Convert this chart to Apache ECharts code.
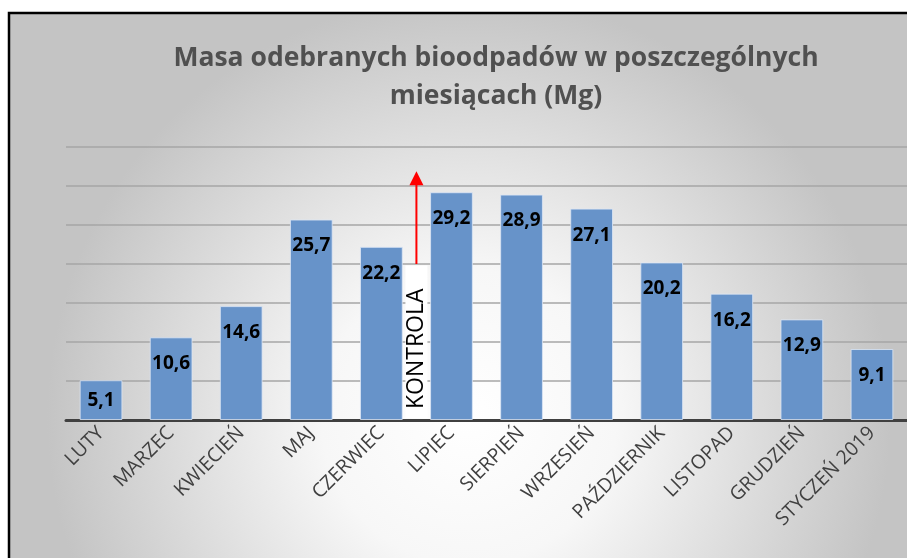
<!DOCTYPE html>
<html>
<head>
<meta charset="utf-8">
<script src="https://cdn.jsdelivr.net/npm/echarts@6/dist/echarts.min.js"></script>
<style>
    html, body { margin: 0; padding: 0; background: #fff; }
    #chart { width: 907px; height: 558px; }
</style>
</head>
<body>
<div id="chart"></div>
<script>
    const months = ['LUTY', 'MARZEC', 'KWIECIEŃ', 'MAJ', 'CZERWIEC', 'LIPIEC', 'SIERPIEŃ',
        'WRZESIEŃ', 'PAŹDZIERNIK', 'LISTOPAD', 'GRUDZIEŃ', 'STYCZEŃ 2019'];
    const massMg = [5.1, 10.6, 14.6, 25.7, 22.2, 29.2, 28.9, 27.1, 20.2, 16.2, 12.9, 9.1];
    const yTicks = [0, 5, 10, 15, 20, 25, 30, 35];

    const titleText = 'Masa odebranych bioodpadów w poszczególnych\nmiesiącach (Mg)';
    const noteText = 'KONTROLA';
    // adnotacja: strzałka między czerwcem a lipcem
    const noteArrow = { from: 20, to: 31.9 };
    const noteBox = { from: 0, to: 19.8 };

    const fontFamily = '"Open Sans", Lato, sans-serif';

    const chart = echarts.init(document.getElementById('chart'));

    function fmt(v) {
        return v.toFixed(1).replace('.', ',');
    }

    const barData = massMg.map((v, i) => {
        // najniższy słupek ma etykietę na środku
        if (i === 0) return { value: v, label: { position: 'inside', distance: 0 } };
        return v;
    });

    chart.setOption({
        animation: false,
        title: {
            text: titleText,
            left: 491,
            top: 34,
            textAlign: 'center',
            textStyle: {
                color: '#505050',
                fontSize: 26.5,
                fontWeight: 'bold',
                fontFamily,
                lineHeight: 38
            }
        },
        grid: { left: 66, right: -14, top: 147, bottom: 138 },
        xAxis: {
            type: 'category',
            data: months,
            axisTick: { show: false },
            axisLine: { lineStyle: { color: '#404040', width: 3 } },
            axisLabel: {
                rotate: 45,
                interval: 0,
                color: '#404040',
                fontSize: 19.5,
                fontFamily,
                margin: 10
            }
        },
        yAxis: {
            type: 'value',
            min: yTicks[0],
            max: yTicks[yTicks.length - 1],
            interval: 5,
            axisLabel: { show: false },
            axisLine: { show: false },
            axisTick: { show: false },
            splitLine: { lineStyle: { color: '#a6a6a6', width: 1.5 } }
        },
        series: [{
            type: 'bar',
            data: barData,
            barCategoryGap: '39%',
            itemStyle: {
                color: '#6793c9',
                borderColor: 'rgba(220,230,245,0.8)',
                borderWidth: 1
            },
            label: {
                show: true,
                position: 'insideTop',
                distance: 17,
                color: '#000',
                fontSize: 19,
                fontWeight: 'bold',
                fontFamily,
                formatter: p => fmt(p.value)
            }
        }]
    });

    function drawNote() {
        const x = (chart.convertToPixel({ xAxisIndex: 0 }, 4) + chart.convertToPixel({ xAxisIndex: 0 }, 5)) / 2;
        const yPx = v => chart.convertToPixel({ yAxisIndex: 0 }, v);
        const boxTop = yPx(noteBox.to);
        const boxBottom = yPx(noteBox.from);
        const arrowTop = yPx(noteArrow.to);
        const arrowBottom = yPx(noteArrow.from);

        chart.setOption({
            graphic: [
                {
                    // tło ramki z promienistym gradientem
                    type: 'rect',
                    z: -10,
                    silent: true,
                    shape: { x: 9, y: 13, width: 920, height: 560 },
                    style: {
                        fill: {
                            type: 'radial', x: 0.5, y: 0.72, r: 0.75,
                            colorStops: [
                                { offset: 0, color: '#ffffff' },
                                { offset: 0.35, color: '#f7f7f7' },
                                { offset: 1, color: '#c4c4c4' }
                            ]
                        },
                        stroke: '#000',
                        lineWidth: 2.5
                    }
                },
                {
                    type: 'rect',
                    z: 5,
                    shape: { x: x - 11, y: boxTop, width: 22, height: boxBottom - boxTop - 2 },
                    style: { fill: '#fff' }
                },
                {
                    type: 'text',
                    z: 6,
                    x: x,
                    y: (boxTop + boxBottom) / 2 + 6,
                    rotation: Math.PI / 2,
                    style: {
                        text: noteText,
                        fill: '#000',
                        font: '23px ' + fontFamily,
                        align: 'center',
                        verticalAlign: 'middle'
                    }
                },
                {
                    type: 'line',
                    z: 6,
                    shape: { x1: x, y1: arrowBottom, x2: x, y2: arrowTop + 12 },
                    style: { stroke: '#ff0000', lineWidth: 2 }
                },
                {
                    type: 'polygon',
                    z: 6,
                    shape: { points: [[x, arrowTop], [x - 7, arrowTop + 14], [x + 7, arrowTop + 14]] },
                    style: { fill: '#ff0000' }
                }
            ]
        });
    }

    drawNote();
</script>
</body>
</html>
